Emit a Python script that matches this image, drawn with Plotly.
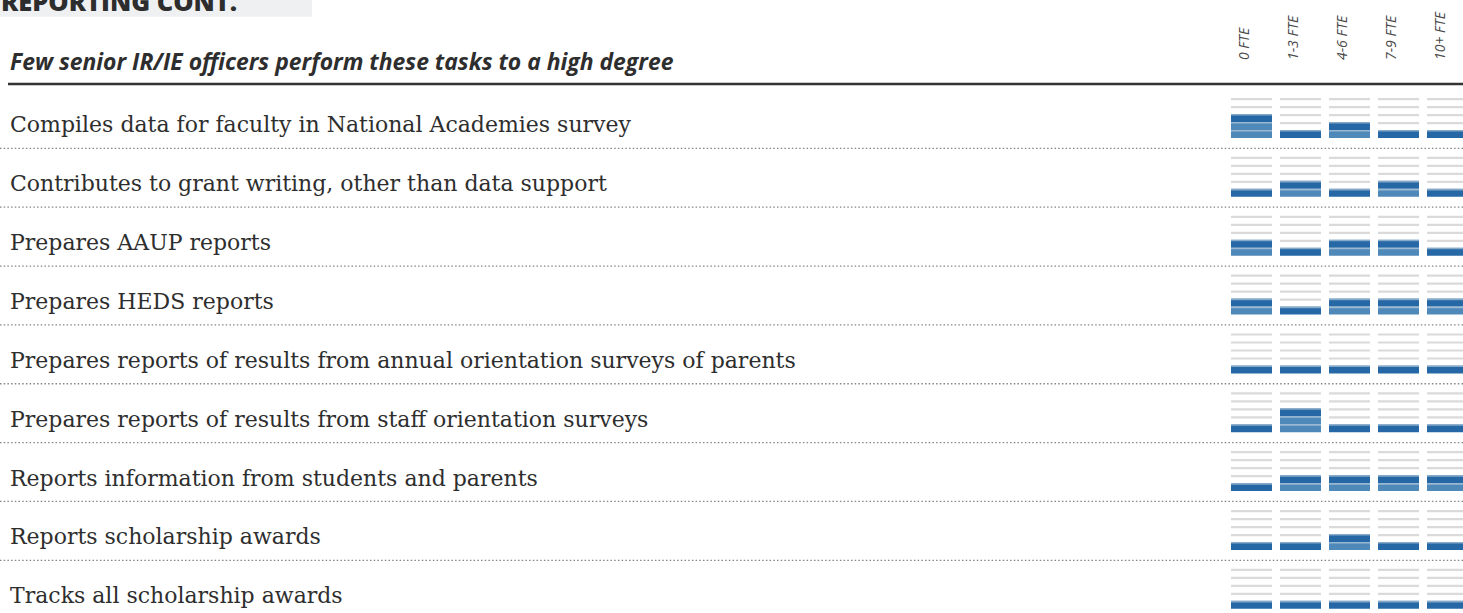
import plotly.graph_objects as go

# ---- content -------------------------------------------------------------
section_title = "REPORTING CONT."
subtitle = "Few senior IR/IE officers perform these tasks to a high degree"

tasks = [
    "Compiles data for faculty in National Academies survey",
    "Contributes to grant writing, other than data support",
    "Prepares AAUP reports",
    "Prepares HEDS reports",
    "Prepares reports of results from annual orientation surveys of parents",
    "Prepares reports of results from staff orientation surveys",
    "Reports information from students and parents",
    "Reports scholarship awards",
    "Tracks all scholarship awards",
]

staff_sizes = ["0 FTE", "1-3 FTE", "4-6 FTE", "7-9 FTE", "10+ FTE"]

# degree to which the task is performed (1 = lowest, 5 = highest), one value per task
fte_0 = [3, 1, 2, 2, 1, 1, 1, 1, 1]
fte_1_3 = [1, 2, 1, 1, 1, 3, 2, 1, 1]
fte_4_6 = [2, 1, 2, 2, 1, 1, 2, 2, 1]
fte_7_9 = [1, 2, 2, 2, 1, 1, 2, 1, 1]
fte_10_plus = [1, 1, 1, 2, 1, 1, 2, 1, 1]

max_level = 5

# ---- geometry / style ----------------------------------------------------
W, H = 1463, 613
COL_PX0, COL_PITCH, GLYPH_W = 1251.5, 49.0, 41.0
ROW_PX0, ROW_PITCH = 118.9, 58.85
GLYPH_BOTTOM = 19.1   # px below the row centre
LEVEL_H = 8.0         # px per level
LINE_H = 2.2          # px for level rule

DARK = "rgb(37,104,165)"
LIGHT = "rgb(79,137,185)"
RULE = "#dadada"
RULE_ON_FILL = "rgba(215,222,230,0.55)"
TEXT = "#2e2e2e"

columns = [fte_0, fte_1_3, fte_4_6, fte_7_9, fte_10_plus]

dy = 1.0 / ROW_PITCH
bar_w = GLYPH_W / COL_PITCH


def level_top(row, level):
    return row + (GLYPH_BOTTOM - LEVEL_H * level) * dy


dark_x, dark_b = [], []
light_x, light_b = [], []
rule_x, rule_b = [], []
frule_x, frule_b = [], []
for ci, col in enumerate(columns):
    for ri, v in enumerate(col):
        for lv in range(1, max_level + 1):
            top = level_top(ri, lv)
            if lv == v:
                dark_x.append(ci); dark_b.append(top)
                frule_x.append(ci); frule_b.append(top)
            elif lv < v:
                light_x.append(ci); light_b.append(top)
                frule_x.append(ci); frule_b.append(top)
            else:
                rule_x.append(ci); rule_b.append(top)

fig = go.Figure()


def add_bars(xs, bases, height, color):
    fig.add_trace(go.Bar(
        x=xs, y=[height] * len(xs), base=bases, width=bar_w,
        marker=dict(color=color, line=dict(width=0)),
        hoverinfo="skip", showlegend=False,
    ))


add_bars(light_x, light_b, LEVEL_H * dy, LIGHT)
add_bars(dark_x, dark_b, LEVEL_H * dy, DARK)
add_bars(rule_x, rule_b, LINE_H * dy, RULE)
add_bars(frule_x, frule_b, 1.6 * dy, RULE_ON_FILL)

# dotted separators between tasks
for ri in range(len(tasks) - 1):
    fig.add_shape(type="line", xref="paper", yref="y", x0=0, x1=1,
                  y0=ri + 0.5, y1=ri + 0.5,
                  line=dict(color="#858585", width=1.3, dash="1.5px,2.2px"))

# heavy rule under subtitle
fig.add_shape(type="line", xref="paper", yref="paper",
              x0=8 / W, x1=1, y0=1 - 84 / H, y1=1 - 84 / H,
              line=dict(color="#333333", width=2.5))

# section tab
fig.add_shape(type="rect", xref="paper", yref="paper",
              x0=0, x1=312 / W, y0=1 - 16.7 / H, y1=1.01,
              fillcolor="#eef0f2", line=dict(width=0), layer="below")
fig.add_annotation(text=section_title, xref="paper", yref="paper",
                   x=-1 / W, y=1 - 1.5 / H, xanchor="left", yanchor="middle",
                   showarrow=False,
                   font=dict(family="Open Sans", size=25.5, weight=800, color="#2d2d2d"))

fig.add_annotation(text=subtitle, xref="paper", yref="paper",
                   x=8 / W, y=1 - 62 / H, xanchor="left", yanchor="middle",
                   showarrow=False,
                   font=dict(family="Open Sans", size=22.9, weight=700, style="italic",
                             color=TEXT))

# task labels
for ri, t in enumerate(tasks):
    fig.add_annotation(text=t, xref="paper", yref="y", x=8 / W, y=ri,
                       xanchor="left", yanchor="middle", yshift=-6,
                       showarrow=False,
                       font=dict(family="DejaVu Serif", size=22, color=TEXT))

# column headers
for ci, s in enumerate(staff_sizes):
    fig.add_annotation(text=s, xref="x", yref="paper", x=ci, y=1 - 62 / H,
                       xanchor="center", yanchor="bottom", xshift=-8,
                       textangle=-90, showarrow=False,
                       font=dict(family="Open Sans", size=14, style="italic",
                                 color="#4a4a4a"))

x0 = -COL_PX0 / COL_PITCH
x1 = (W - COL_PX0) / COL_PITCH
y_top = -ROW_PX0 / ROW_PITCH
y_bot = (H - ROW_PX0) / ROW_PITCH

fig.update_layout(
    width=W, height=H,
    margin=dict(l=0, r=0, t=0, b=0, pad=0),
    paper_bgcolor="white", plot_bgcolor="white",
    barmode="overlay", showlegend=False,
    xaxis=dict(range=[x0, x1], visible=False, fixedrange=True),
    yaxis=dict(range=[y_bot, y_top], visible=False, fixedrange=True),
)

fig.write_html("out.html")
